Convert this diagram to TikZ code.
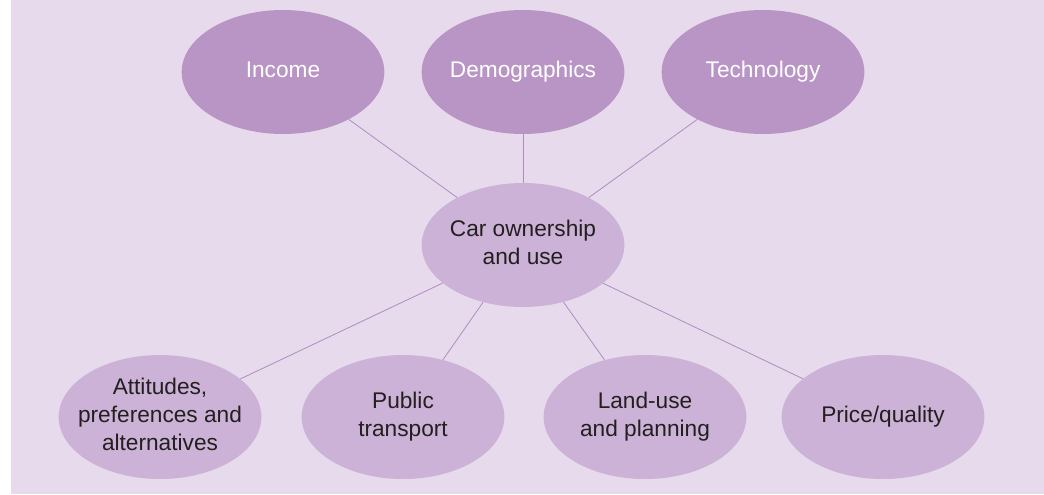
\documentclass[tikz,border=0pt]{standalone}
\usepackage{fontspec}
\setmainfont{Liberation Sans}
\usepackage{xcolor}
\usetikzlibrary{shapes.geometric, positioning}

\definecolor{panelbg}{HTML}{E6DAEC}
\definecolor{darkbub}{HTML}{B995C5}
\definecolor{lightbub}{HTML}{CBB2D6}
\definecolor{linkcol}{HTML}{B08CC0}
\definecolor{txtdark}{HTML}{231F20}

\newcommand{\bubtext}[1]{\makebox[0pt]{\begin{tabular}{@{}c@{}}#1\end{tabular}}}

\tikzstyle{bubble} = [ellipse, minimum width=152pt, minimum height=93pt, inner sep=0pt,
  font=\fontsize{17}{21}\selectfont]
\tikzstyle{factor} = [bubble, fill=darkbub, text=white]
\tikzstyle{outcome} = [bubble, fill=lightbub, text=txtdark]
\tikzstyle{link} = [linkcol, line width=0.6pt]

\begin{document}
\begin{tikzpicture}[x=0.75pt, y=0.75pt]
        \useasboundingbox (0,0) rectangle (1044,494);
        % Panel
        \fill[panelbg] (11,0) rectangle (1044,494);

        % Top factors
        \node[factor] (income) at (283,422) {\bubtext{Income}};
        \node[factor] (demog) at (523,422) {\bubtext{Demographics}};
        \node[factor] (tech) at (763,422) {\bubtext{Technology}};

        % Centre
        \node[outcome] (car) at (523,249) {\bubtext{Car ownership\\and use}};

        % Bottom factors
        \node[outcome] (attit) at (160,77) {\bubtext{Attitudes,\\preferences and\\alternatives}};
        \node[outcome] (public) at (403,77) {\bubtext{Public\\transport}};
        \node[outcome] (landuse) at (645,77) {\bubtext{Land-use\\and planning}};
        \node[outcome] (price) at (883,77) {\bubtext{Price/quality}};

        % Links
        \foreach \n in {income, demog, tech, attit, public, landuse, price}
          \draw[link] (car) -- (\n);
      \end{tikzpicture}
\end{document}
